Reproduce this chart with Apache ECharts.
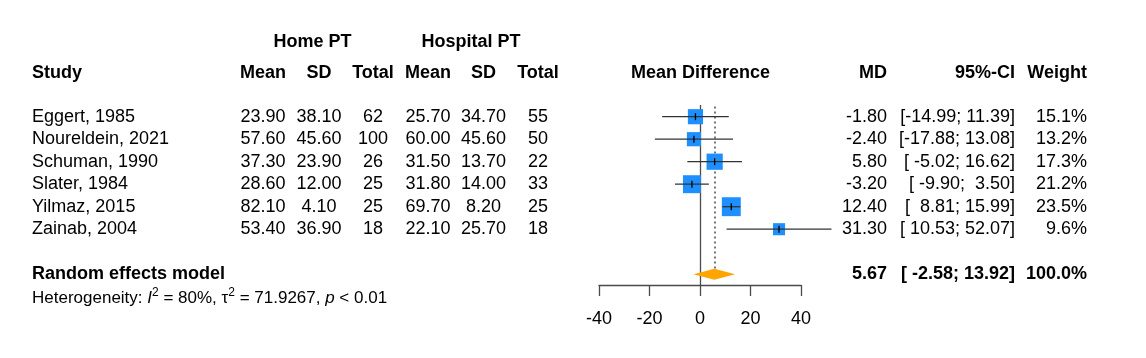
<!DOCTYPE html>
<html><head><meta charset="utf-8">
<script src="https://cdn.jsdelivr.net/npm/echarts@6/dist/echarts.min.js"></script>
<style>html,body{margin:0;padding:0;background:#fff}#c{width:1146px;height:358px}</style>
</head><body><div id="c"></div>
<script>
// ---- data ----
const studies = ['Eggert, 1985','Noureldein, 2021','Schuman, 1990','Slater, 1984','Yilmaz, 2015','Zainab, 2004'];
const homeMean = [23.90, 57.60, 37.30, 28.60, 82.10, 53.40];
const homeSD   = [38.10, 45.60, 23.90, 12.00, 4.10, 36.90];
const homeN    = [62, 100, 26, 25, 25, 18];
const hospMean = [25.70, 60.00, 31.50, 31.80, 69.70, 22.10];
const hospSD   = [34.70, 45.60, 13.70, 14.00, 8.20, 25.70];
const hospN    = [55, 50, 22, 33, 25, 18];
const md       = [-1.80, -2.40, 5.80, -3.20, 12.40, 31.30];
const ciLow    = [-14.99, -17.88, -5.02, -9.90, 8.81, 10.53];
const ciHigh   = [11.39, 13.08, 16.62, 3.50, 15.99, 52.07];
const weight   = [15.1, 13.2, 17.3, 21.2, 23.5, 9.6];
const pooledMD = 5.67, pooledLow = -2.58, pooledHigh = 13.92, pooledWeight = 100.0;
const xTicks = [-40, -20, 0, 20, 40];
const summaryRow = 7;

// ---- style ----
const FONT = '"Liberation Sans", Arial, Helvetica, sans-serif';
const FS = 18;
const BLUE = '#1E8FFF';
const ORANGE = '#FFA500';

function pad(s, n){ while (s.length < n) s = ' ' + s; return s; }
function fmtCI(lo, hi){ return '[' + pad(lo.toFixed(2), 6) + '; ' + pad(hi.toFixed(2), 5) + ']'; }

function txt(x, y, text, align, bold, size){
  return {type:'text', x:x, y:y, style:{text:text, fill:'#000', fontSize:size||FS, fontFamily:FONT,
    fontWeight: bold ? 'bold' : 'normal', align:align, verticalAlign:'middle'}};
}

const chart = echarts.init(document.getElementById('c'), null, {renderer:'canvas'});

const studyData = studies.map((s,i)=>[md[i], i, ciLow[i], ciHigh[i], weight[i]]);

chart.setOption({
  animation:false,
  grid:{left:599, right:345, top:105, bottom:73},
  xAxis:{type:'value', position:'bottom', min:xTicks[0], max:xTicks[xTicks.length-1], interval:20,
    splitLine:{show:false},
    axisLine:{show:true, onZero:false, lineStyle:{color:'#4a4a4a', width:1.3}},
    axisTick:{show:true, inside:false, length:11, lineStyle:{color:'#4a4a4a', width:1.3}},
    axisLabel:{fontSize:FS, fontFamily:FONT, color:'#000', margin:25}},
  yAxis:{type:'value', inverse:true, min:-0.52, max:7.48, show:false},
  graphic:[
    txt(312.5, 42, 'Home PT', 'center', true),
    txt(471, 42, 'Hospital PT', 'center', true),
    txt(32, 73, 'Study', 'left', true),
    txt(263, 73, 'Mean', 'center', true),
    txt(319, 73, 'SD', 'center', true),
    txt(373, 73, 'Total', 'center', true),
    txt(428, 73, 'Mean', 'center', true),
    txt(483.5, 73, 'SD', 'center', true),
    txt(538, 73, 'Total', 'center', true),
    txt(700.5, 73, 'Mean Difference', 'center', true),
    txt(887, 73, 'MD', 'right', true),
    txt(1015, 73, '95%-CI', 'right', true),
    txt(1087, 73, 'Weight', 'right', true),
    {type:'text', x:32, y:298, style:{
      text:'Heterogeneity: {i|I}{s|2} = 80%, τ{s|2} = 71.9267, {i|p} < 0.01',
      fill:'#000', fontSize:17, fontFamily:FONT, verticalAlign:'middle', align:'left',
      rich:{
        i:{fontSize:17, fontFamily:FONT, fontStyle:'italic', fill:'#000', lineHeight:22, verticalAlign:'middle'},
        s:{fontSize:12, fontFamily:FONT, fill:'#000', lineHeight:12, verticalAlign:'top'}
      }}}
  ],
  series:[
    {
      type:'custom', name:'table', coordinateSystem:'cartesian2d', silent:true, z:1,
      data: studies.map((s,i)=>[0, i]),
      renderItem:function(params, api){
        const i = params.dataIndex;
        const y = api.coord([0, api.value(1)])[1];
        return {type:'group', children:[
          txt(32, y, studies[i], 'left'),
          txt(263, y, homeMean[i].toFixed(2), 'center'),
          txt(319, y, homeSD[i].toFixed(2), 'center'),
          txt(373, y, String(homeN[i]), 'center'),
          txt(428, y, hospMean[i].toFixed(2), 'center'),
          txt(483.5, y, hospSD[i].toFixed(2), 'center'),
          txt(538, y, String(hospN[i]), 'center'),
          txt(887, y, md[i].toFixed(2), 'right'),
          txt(1015, y, fmtCI(ciLow[i], ciHigh[i]), 'right'),
          txt(1087, y, weight[i].toFixed(1) + '%', 'right')
        ]};
      }
    },
    {
      type:'custom', name:'studies', coordinateSystem:'cartesian2d', silent:true, z:5,
      data: studyData,
      markLine:{silent:true, symbol:['none','none'], label:{show:false}, animation:false,
        data:[
          [{coord:[0,-0.52], lineStyle:{color:'#4a4a4a', width:1.3, type:'solid'}}, {coord:[0,7.48]}],
          [{coord:[pooledMD,-0.45], lineStyle:{color:'#4a4a4a', width:1.5, type:[2,3]}}, {coord:[pooledMD,summaryRow]}]
        ]},
      renderItem:function(params, api){
        const row = api.value(1);
        const c = api.coord([api.value(0), row]);
        const lo = api.coord([api.value(2), row]);
        const hi = api.coord([api.value(3), row]);
        const s = 3.9*Math.sqrt(api.value(4));
        return {type:'group', children:[
          {type:'rect', shape:{x:c[0]-s/2, y:c[1]-s/2, width:s, height:s}, style:{fill:BLUE}},
          {type:'line', shape:{x1:lo[0], y1:c[1], x2:hi[0], y2:c[1]}, style:{stroke:'#333', lineWidth:1.3}},
          {type:'line', shape:{x1:c[0], y1:c[1]-3.5, x2:c[0], y2:c[1]+3.5}, style:{stroke:'#000', lineWidth:1.3}}
        ]};
      }
    },
    {
      type:'custom', name:'pooled', coordinateSystem:'cartesian2d', silent:true, z:6,
      data:[[pooledMD, summaryRow, pooledLow, pooledHigh, pooledWeight]],
      renderItem:function(params, api){
        const row = api.value(1);
        const c = api.coord([api.value(0), row]);
        const lo = api.coord([api.value(2), row]);
        const hi = api.coord([api.value(3), row]);
        const h = 5.5;
        return {type:'group', children:[
          {type:'polygon', shape:{points:[[lo[0],c[1]],[c[0],c[1]-h],[hi[0],c[1]],[c[0],c[1]+h]]}, style:{fill:ORANGE}},
          txt(32, c[1], 'Random effects model', 'left', true),
          txt(887, c[1], api.value(0).toFixed(2), 'right', true),
          txt(1015, c[1], fmtCI(api.value(2), api.value(3)), 'right', true),
          txt(1087, c[1], api.value(4).toFixed(1) + '%', 'right', true)
        ]};
      }
    }
  ]
});
</script></body></html>
